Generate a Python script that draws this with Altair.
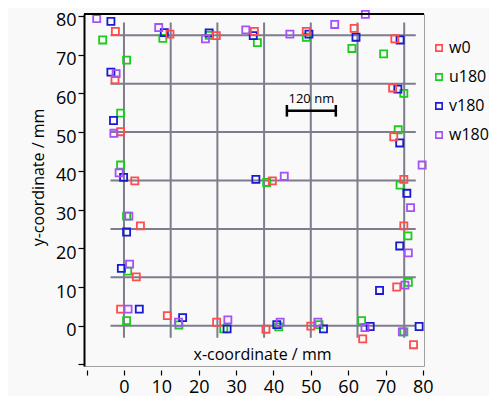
import altair as alt
import pandas as pd

series = ["w0", "u180", "v180", "w180"]
colors = ["#ff4d4d", "#1ccc1c", "#1a1ad2", "#a452f7"]

w0_x = [-2.3, 12.3, 24.7, 34.9, 48.8, 61.6, 72.5, -2.4, 71.9, -0.9, 72.2, 2.9, 39.7, 74.9, 4.4, 74.9, 3.3, 73.0, -0.9, 11.6, 24.8, 38.0, 50.0, 63.9, 77.5]
w0_y = [76.0, 75.3, 74.9, 76.0, 76.0, 76.8, 74.1, 63.5, 61.4, 50.1, 48.8, 37.4, 37.4, 37.8, 25.8, 25.8, 12.6, 10.0, 4.3, 2.6, 0.9, -0.9, -0.1, -3.4, -4.9]

u180_x = [-5.7, 10.4, 22.8, 35.7, 48.8, 61.0, 69.5, 0.7, 74.9, -0.9, 73.4, -0.9, 38.2, 73.9, 0.7, 76.0, 1.0, 76.1, 0.7, 14.7, 26.7, 41.4, 52.2, 63.6, 74.9]
u180_y = [73.8, 74.2, 75.0, 73.1, 74.5, 71.6, 70.2, 68.6, 60.0, 54.9, 50.6, 41.5, 37.0, 36.3, 28.3, 23.2, 14.1, 11.2, 1.3, 0.2, -0.8, -0.3, 0.3, 1.3, -1.6]

v180_x = [-3.5, 10.8, 22.8, 34.6, 49.5, 62.1, 73.9, -3.5, 73.3, -2.8, 73.8, -0.1, 35.3, 75.7, 0.7, 73.8, -0.7, 68.4, 4.1, 15.7, 27.6, 40.9, 53.4, 65.9, 79.0]
v180_y = [78.6, 75.7, 75.6, 74.9, 75.3, 74.5, 73.8, 65.5, 61.1, 53.0, 47.2, 38.3, 37.8, 34.2, 24.2, 20.6, 14.8, 9.1, 4.3, 2.1, -0.8, 0.3, -0.8, -0.2, -0.2]

w180_x = [-7.3, 9.3, 21.8, 32.6, 44.4, 56.4, 64.6, -2.1, -2.7, -1.3, 42.9, 79.8, 1.3, 76.7, 1.5, 76.1, 1.1, 75.2, 14.6, 27.8, 41.8, 51.9, 64.5, 74.5]
w180_y = [79.3, 77.0, 74.1, 76.4, 75.3, 77.8, 80.4, 65.1, 49.7, 39.5, 38.6, 41.5, 28.3, 30.5, 15.9, 18.8, 4.3, 10.5, 0.9, 1.5, 0.9, 0.9, -0.5, -1.6]

grid_pos = [0, 12.5, 25, 37.5, 50, 62.5, 75]
grid_v_extent = [-3.1, 78.3]
grid_h_extent = [-3.6, 78.1]

bar_x = [43.6, 56.7]
bar_y = 55.5
bar_cap = 1.5
bar_label = "120 nm"
bar_label_y = 58.6

x_ticks = [-10, 0, 10, 20, 30, 40, 50, 60, 70, 80]
y_ticks = [-10, 0, 10, 20, 30, 40, 50, 60, 70, 80]
x_domain = [-10.7, 80.3]
y_domain = [-10.4, 80.5]

rows = []
for name, xs, ys in [("w0", w0_x, w0_y), ("u180", u180_x, u180_y),
                     ("v180", v180_x, v180_y), ("w180", w180_x, w180_y)]:
    for a, b in zip(xs, ys):
        rows.append({"series": name, "x": a, "y": b})
pts = pd.DataFrame(rows)

gv = pd.DataFrame({"x": grid_pos, "y": [grid_v_extent[0]] * 7, "y2": [grid_v_extent[1]] * 7})
gh = pd.DataFrame({"y": grid_pos, "x": [grid_h_extent[0]] * 7, "x2": [grid_h_extent[1]] * 7})

bar_df = pd.DataFrame({"x": [bar_x[0]], "x2": [bar_x[1]], "y": [bar_y]})
caps_df = pd.DataFrame({"x": bar_x, "y": [bar_y - bar_cap] * 2, "y2": [bar_y + bar_cap] * 2})
lab_df = pd.DataFrame({"x": [(bar_x[0] + bar_x[1]) / 2], "y": [bar_label_y], "t": [bar_label]})

FONT = "Open Sans"
xscale = alt.Scale(domain=x_domain, nice=False, zero=False)
yscale = alt.Scale(domain=y_domain, nice=False, zero=False)
xaxis = alt.Axis(values=x_ticks, labelExpr="datum.value < 0 ? '' : datum.label",
                 domain=False, grid=False, tickSize=5, tickColor="black", tickWidth=1.2,
                 labelFontSize=18, labelFont=FONT, labelColor="black", labelPadding=3,
                 offset=4, title="x-coordinate / mm", titleFontSize=16, titleFont=FONT,
                 titleFontWeight="normal", titleColor="black", titleX=178, titleY=-11,
                 titleBaseline="alphabetic")
yaxis = alt.Axis(values=y_ticks, labelExpr="datum.value < 0 ? '' : datum.label",
                 domain=True, domainColor="black", domainWidth=2, grid=False,
                 tickSize=6, tickColor="black", tickWidth=1.2,
                 labelFontSize=18, labelFont=FONT, labelColor="black", labelPadding=2,
                 labelOffset=5,
                 title="y-coordinate / mm", titleFontSize=16, titleFont=FONT,
                 titleFontWeight="normal", titleColor="black", titleX=-46, titleY=163,
                 titleAngle=270, titleBaseline="middle")

def X(f="x"):
    return alt.X(f, type="quantitative", scale=xscale, axis=xaxis)

def Y(f="y"):
    return alt.Y(f, type="quantitative", scale=yscale, axis=yaxis)

grid_color = "#7d7d8c"
vrules = alt.Chart(gv).mark_rule(color=grid_color, strokeWidth=2).encode(x=X(), y=Y(), y2="y2:Q")
hrules = alt.Chart(gh).mark_rule(color=grid_color, strokeWidth=2).encode(y=Y(), x=X(), x2="x2:Q")

points = alt.Chart(pts).mark_point(shape="square", filled=False, size=50, strokeWidth=1.8, opacity=1).encode(
    x=X(), y=Y(),
    color=alt.Color("series:N", sort=series,
                    scale=alt.Scale(domain=series, range=colors),
                    legend=alt.Legend(title=None, orient="none", legendX=347, legendY=26,
                                      labelFontSize=16, labelFont=FONT, labelColor="black",
                                      symbolType="square", symbolSize=40, symbolStrokeWidth=1.6,
                                      rowPadding=13, labelOffset=2, padding=0)),
    order=alt.Order("series:N"),
)

bar = alt.Chart(bar_df).mark_rule(color="black", strokeWidth=2.5).encode(x=X(), x2="x2:Q", y=Y())
caps = alt.Chart(caps_df).mark_rule(color="black", strokeWidth=2.5).encode(x=X(), y=Y(), y2="y2:Q")
lab = alt.Chart(lab_df).mark_text(font=FONT, fontSize=13, color="black").encode(x=X(), y=Y(), text="t:N")

top = alt.Chart(pd.DataFrame({"a": [0]})).mark_rule(color="black", strokeWidth=2).encode(
    x=alt.value(0), x2=alt.value(340), y=alt.value(0))

chart = alt.layer(vrules, hrules, bar, caps, lab, points, top).properties(
    width=340, height=352,
    autosize=alt.AutoSizeParams(type="none"),
    padding={"left": 76, "top": 6, "right": 65, "bottom": 30},
    background="#f9f9f9",
).configure_view(stroke="#a0a0a0", strokeWidth=1)

chart.save("out.html", embed_options={"renderer": "svg", "actions": False})
